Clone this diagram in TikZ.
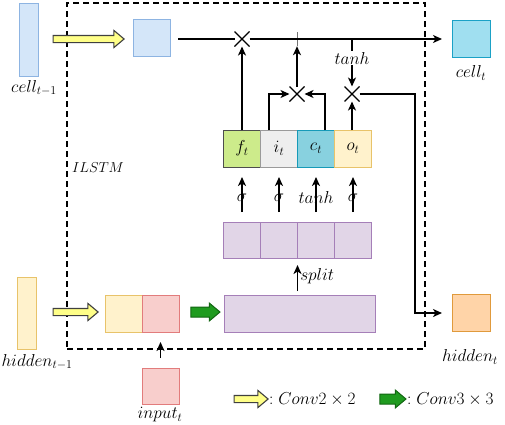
\documentclass[tikz,border=0pt]{standalone}
\usetikzlibrary{shapes.arrows,shapes.misc,arrows.meta,calc}
\definecolor{lblueF}{HTML}{D4E6F9}\definecolor{lblueD}{HTML}{8DB4E2}
\definecolor{cyanF}{HTML}{A0DFF0}\definecolor{cyanD}{HTML}{1BA1C6}
\definecolor{yelF}{HTML}{FFF2CC}\definecolor{yelD}{HTML}{E8C36A}
\definecolor{redF}{HTML}{F8CECC}\definecolor{redD}{HTML}{E27C7C}
\definecolor{purF}{HTML}{E1D5E7}\definecolor{purD}{HTML}{A57FB8}
\definecolor{grnF}{HTML}{CDEB8B}\definecolor{grnD}{HTML}{4D4D4D}
\definecolor{gryF}{HTML}{EEEEEE}\definecolor{gryD}{HTML}{9A9A9A}
\definecolor{orgF}{HTML}{FFD4A8}\definecolor{orgD}{HTML}{E09A3C}
\definecolor{yarF}{HTML}{FFFF88}\definecolor{garF}{HTML}{1F9B1F}\definecolor{garD}{HTML}{126612}
\begin{document}
\begin{tikzpicture}[x=1pt,y=-1pt,font=\fontsize{17}{20}\selectfont,
  box/.style={draw,line width=1pt,inner sep=0pt,outer sep=0pt},
  lab/.style={inner sep=0pt},
  conn/.style={line width=1.5pt},
  arr/.style={conn,-{Stealth[length=9pt,width=8pt,inset=2.5pt]}},
  mul/.style={cross out,draw,line width=1.1pt,minimum size=11pt,inner sep=0pt,outer sep=2pt},
  plusn/.style={minimum size=14pt,inner sep=0pt,
    path picture={\draw[black!55,line width=1pt] (path picture bounding box.north)--(path picture bounding box.south)
      (path picture bounding box.west)--(path picture bounding box.east);}},
  yarrow/.style={single arrow,draw=black!75,fill=yarF,line width=1.1pt,inner sep=0pt,inner ysep=3pt,
    minimum width=16pt,single arrow head extend=5pt,single arrow tip angle=80},
  garrow/.style={single arrow,draw=garD,fill=garF,line width=1pt,inner sep=0pt,inner ysep=4.5pt,
    minimum width=17pt,single arrow head extend=4pt,single arrow tip angle=80},
  frame/.style={draw,line width=1.6pt,dash pattern=on 6pt off 4pt,inner sep=0pt}
]
\useasboundingbox (0,0) rectangle (505,424);
% frame
\node[frame,minimum width=358pt,minimum height=346pt] (frm) at (246,176) {};
\node[lab,font=\fontsize{14.5}{17}\selectfont] (ilstm) at (98,168) {$ILSTM$};
% top row
\node[box,fill=lblueF,draw=lblueD,minimum width=19pt,minimum height=73pt] (cellprev) at (28.5,39.5) {};
\node[lab] (lcellprev) at (34,88) {$cell_{t-1}$};
\node[yarrow,minimum height=71pt] (ya1) at (86.5,39) {};
\node[box,fill=lblueF,draw=lblueD,minimum size=37pt] (cin) at (151.5,38) {};
\node[mul] (mul1) at (242,39) {};
\node[plusn] (plus) at (297,39) {};
\coordinate (tap) at (352,39);
\node[box,fill=cyanF,draw=cyanD,minimum width=38pt,minimum height=37pt] (cellt) at (471,39) {};
\node[lab] (lcellt) at (471,73) {$cell_t$};
\draw[conn] (mul1 -| cin.east) -- (mul1) [shorten <=8pt];
\draw[arr,shorten >=10pt] (mul1) -- (cellt);
% gates
\node[box,fill=grnF,draw=grnD,minimum width=37pt,minimum height=37pt] (fg) at (242,148.5) {$f_t$};
\node[box,fill=gryF,draw=gryD,minimum width=37pt,minimum height=37pt] (ig) at (279,148.5) {$i_t$};
\node[box,fill=cyanF!85!teal,draw=cyanD!80!teal,minimum width=37pt,minimum height=37pt] (cg) at (316,148.5) {$c_t$};
\node[box,fill=yelF,draw=yelD,minimum width=37pt,minimum height=37pt] (og) at (353,148.5) {$o_t$};
\node[mul] (mul2) at (297,94) {};
\node[mul] (mul3) at (352,94) {};
\draw[arr] (fg.north) -- (mul1);
\draw[arr] ($(ig.north)+(-10,0)$) |- (mul2);
\draw[arr] ($(cg.north)+(9,0)$) |- (mul2);
\draw[arr] (mul2) -- (plus);
\draw[arr] (og.north -| mul3) -- (mul3);
\draw[arr] (tap) -- node[pos=0.4,fill=white,inner sep=1pt] (ltanh) {$tanh$} (mul3);
\coordinate (bend) at (415,94);
\node[box,fill=orgF,draw=orgD,minimum width=38pt,minimum height=37pt] (hidt) at (471,313) {};
\node[lab] (lhidt) at (470,357) {$hidden_t$};
\draw[arr,shorten >=10pt] (mul3) -- (bend) |- (hidt);
% split row
\node[box,fill=purF,draw=purD,minimum width=37pt,minimum height=36pt] (p1) at (242,240) {};
\node[box,fill=purF,draw=purD,minimum width=37pt,minimum height=36pt] (p2) at (279,240) {};
\node[box,fill=purF,draw=purD,minimum width=37pt,minimum height=36pt] (p3) at (316,240) {};
\node[box,fill=purF,draw=purD,minimum width=37pt,minimum height=36pt] (p4) at (353,240) {};
\draw[arr,shorten <=10pt,shorten >=10pt] (p1) -- node[pos=0.44,lab] (s1) {$\sigma$} (fg);
\draw[arr,shorten <=10pt,shorten >=10pt] (p2) -- node[pos=0.44,lab] (s2) {$\sigma$} (ig);
\draw[arr,shorten <=10pt,shorten >=10pt] (p3) -- node[pos=0.44,lab] (s3) {$tanh$} (cg);
\draw[arr,shorten <=10pt,shorten >=10pt] (p4) -- node[pos=0.44,lab] (s4) {$\sigma$} (og);
% bottom row
\node[box,fill=purF,draw=purD,minimum width=151pt,minimum height=37pt] (big) at (299.5,313.5) {};
\draw[arr,shorten <=4pt,shorten >=7pt] (big.north -| p2.east) -- node[right,pos=0.5,inner sep=2pt] (lsplit) {$split$} (p2.south east);
\node[box,fill=yelF,draw=yelD,minimum width=19pt,minimum height=72pt] (hprev) at (27,313) {};
\node[lab] (lhprev) at (37,362) {$hidden_{t-1}$};
\node[yarrow,minimum height=45pt] (ya2) at (73.5,312) {};
\node[box,fill=yelF,draw=yelD,minimum width=37pt,minimum height=37pt] (hy) at (123.5,313.5) {};
\node[box,fill=redF,draw=redD,minimum width=37pt,minimum height=37pt] (rx) at (160.5,313.5) {};
\node[garrow,minimum height=29pt] (ga) at (202.5,312) {};
\node[box,fill=redF,draw=redD,minimum width=37pt,minimum height=36pt] (inp) at (160.5,386) {};
\node[lab] (linp) at (160,415) {$input_t$};
\draw[arr,shorten <=10pt,shorten >=10pt] (inp) -- (rx);
% legend
\node[yarrow,minimum height=34pt,minimum width=15pt] (lya) at (249,399) {};
\node[lab,anchor=west] (lyt) at (269,399) {$\mathord{:}\;Conv2\times 2$};
\node[garrow,minimum height=26pt] (lga) at (390,399) {};
\node[lab,anchor=west] (lgt) at (407,399) {$\mathord{:}\;Conv3\times 3$};
\end{tikzpicture}
\end{document}
